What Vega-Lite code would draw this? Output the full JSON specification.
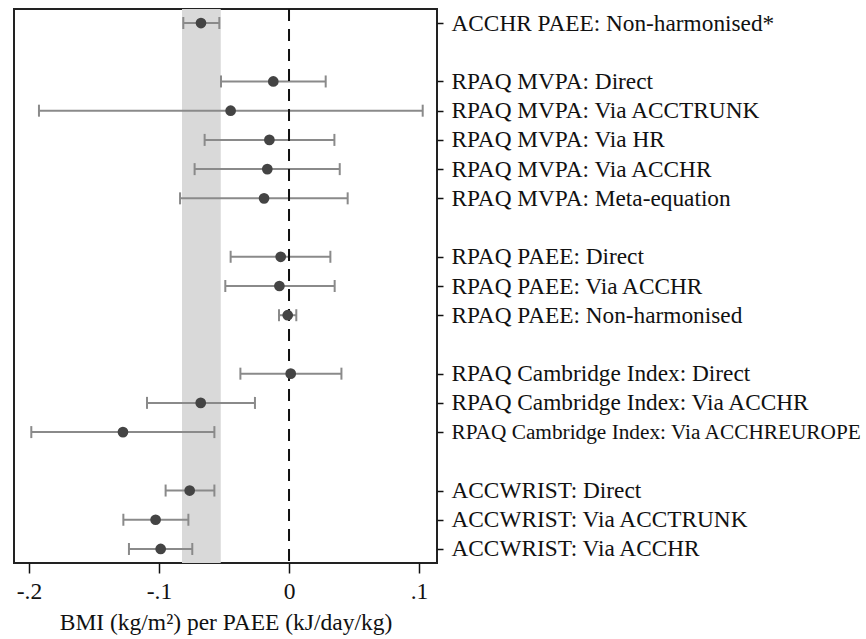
{
  "$schema": "https://vega.github.io/schema/vega-lite/v6.json",
  "width": 423,
  "height": 554,
  "autosize": {"type": "none"},
  "padding": {"left": 14, "top": 9, "right": 429, "bottom": 76},
  "background": "white",
  "config": {
    "view": {"stroke": "#222222", "strokeWidth": 2},
    "font": "Liberation Serif"
  },
  "datasets": {
    "est": [
      {"label": "ACCHR PAEE: Non-harmonised*", "est": -0.0677, "lo": -0.0813, "hi": -0.0536},
      {"label": "RPAQ MVPA: Direct", "est": -0.0121, "lo": -0.0523, "hi": 0.0282},
      {"label": "RPAQ MVPA: Via ACCTRUNK", "est": -0.0449, "lo": -0.1923, "hi": 0.1028},
      {"label": "RPAQ MVPA: Via HR", "est": -0.0151, "lo": -0.0649, "hi": 0.0349},
      {"label": "RPAQ MVPA: Via ACCHR", "est": -0.0167, "lo": -0.0726, "hi": 0.039},
      {"label": "RPAQ MVPA: Meta-equation", "est": -0.0192, "lo": -0.0838, "hi": 0.0451},
      {"label": "RPAQ PAEE: Direct", "est": -0.0064, "lo": -0.0449, "hi": 0.0318},
      {"label": "RPAQ PAEE: Via ACCHR", "est": -0.0074, "lo": -0.049, "hi": 0.0351},
      {"label": "RPAQ PAEE: Non-harmonised", "est": -0.001, "lo": -0.0077, "hi": 0.0056},
      {"label": "RPAQ Cambridge Index: Direct", "est": 0.0013, "lo": -0.0374, "hi": 0.0403},
      {"label": "RPAQ Cambridge Index: Via ACCHR", "est": -0.0679, "lo": -0.1092, "hi": -0.0262},
      {"label": "RPAQ Cambridge Index: Via ACCHREUROPE", "est": -0.1277, "lo": -0.1982, "hi": -0.0574},
      {"label": "ACCWRIST: Direct", "est": -0.0764, "lo": -0.0949, "hi": -0.0574},
      {"label": "ACCWRIST: Via ACCTRUNK", "est": -0.1026, "lo": -0.1274, "hi": -0.0774},
      {"label": "ACCWRIST: Via ACCHR", "est": -0.0987, "lo": -0.1231, "hi": -0.0744}
    ]
  },
  "encoding": {
    "y": {
      "field": "label",
      "type": "nominal",
      "scale": {
        "type": "point",
        "padding": 0.48,
        "domain": [
          "ACCHR PAEE: Non-harmonised*", " ",
          "RPAQ MVPA: Direct", "RPAQ MVPA: Via ACCTRUNK", "RPAQ MVPA: Via HR", "RPAQ MVPA: Via ACCHR", "RPAQ MVPA: Meta-equation", "  ",
          "RPAQ PAEE: Direct", "RPAQ PAEE: Via ACCHR", "RPAQ PAEE: Non-harmonised", "   ",
          "RPAQ Cambridge Index: Direct", "RPAQ Cambridge Index: Via ACCHR", "RPAQ Cambridge Index: Via ACCHREUROPE", "    ",
          "ACCWRIST: Direct", "ACCWRIST: Via ACCTRUNK", "ACCWRIST: Via ACCHR"
        ]
      },
      "axis": {
        "orient": "right",
        "title": null,
        "domain": false,
        "grid": false,
        "values": [
          "ACCHR PAEE: Non-harmonised*",
          "RPAQ MVPA: Direct", "RPAQ MVPA: Via ACCTRUNK", "RPAQ MVPA: Via HR", "RPAQ MVPA: Via ACCHR", "RPAQ MVPA: Meta-equation",
          "RPAQ PAEE: Direct", "RPAQ PAEE: Via ACCHR", "RPAQ PAEE: Non-harmonised",
          "RPAQ Cambridge Index: Direct", "RPAQ Cambridge Index: Via ACCHR", "RPAQ Cambridge Index: Via ACCHREUROPE",
          "ACCWRIST: Direct", "ACCWRIST: Via ACCTRUNK", "ACCWRIST: Via ACCHR"
        ],
        "ticks": true,
        "tickSize": 6,
        "tickWidth": 1.5,
        "tickColor": "#111111",
        "labelFont": "Liberation Serif",
        "labelFontSize": {"condition": {"test": "length(datum.value) > 34", "value": 21.3}, "value": 23.3},
        "labelColor": "#111111",
        "labelPadding": 8,
        "labelLimit": 600
      }
    }
  },
  "layer": [
    {
      "data": {"values": [{"lo": -0.0823, "hi": -0.0525}]},
      "mark": {"type": "rect", "color": "#d9d9d9"},
      "encoding": {
        "x": {"field": "lo", "type": "quantitative"},
        "x2": {"field": "hi"},
        "y": null
      }
    },
    {
      "data": {"name": "est"},
      "mark": {"type": "rule", "color": "#8a8a8a", "strokeWidth": 2},
      "encoding": {
        "x": {"field": "lo", "type": "quantitative"},
        "x2": {"field": "hi"}
      }
    },
    {
      "data": {"name": "est"},
      "mark": {"type": "tick", "orient": "vertical", "color": "#8a8a8a", "size": 12, "thickness": 2, "opacity": 1},
      "encoding": {"x": {"field": "lo", "type": "quantitative"}}
    },
    {
      "data": {"name": "est"},
      "mark": {"type": "tick", "orient": "vertical", "color": "#8a8a8a", "size": 12, "thickness": 2, "opacity": 1},
      "encoding": {"x": {"field": "hi", "type": "quantitative"}}
    },
    {
      "data": {"values": [{"ref": 0}]},
      "mark": {"type": "rule", "color": "#111111", "strokeWidth": 2, "strokeDash": [12, 8]},
      "encoding": {
        "x": {"field": "ref", "type": "quantitative"},
        "y": null
      }
    },
    {
      "data": {"name": "est"},
      "mark": {"type": "point", "filled": true, "shape": "circle", "color": "#444444", "size": 115, "opacity": 1},
      "encoding": {
        "x": {
          "field": "est",
          "type": "quantitative",
          "scale": {"domain": [-0.2115, 0.1138], "nice": false, "zero": false},
          "axis": {
            "title": "BMI (kg/m²) per PAEE (kJ/day/kg)",
            "titleFont": "Liberation Serif",
            "titleFontSize": 23.5,
            "titleFontWeight": "normal",
            "titleColor": "#111111",
            "titlePadding": 8,
            "values": [-0.2, -0.1, 0, 0.1],
            "labelExpr": "datum.value < 0 ? '-.' + abs(round(datum.value * 10)) : (datum.value == 0 ? '0' : '.' + round(datum.value * 10))",
            "labelFont": "Liberation Serif",
            "labelFontSize": 23.5,
            "labelColor": "#111111",
            "labelPadding": 6,
            "labelFlush": false,
            "domain": false,
            "grid": false,
            "tickSize": 10,
            "tickWidth": 1.5,
            "tickColor": "#111111"
          }
        }
      }
    }
  ]
}
